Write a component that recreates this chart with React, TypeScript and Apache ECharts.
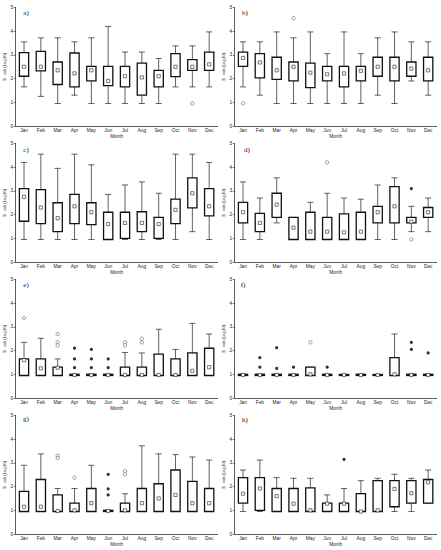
import React, { useEffect, useRef } from "react";
import * as echarts from "echarts";

const months = ["Jan", "Feb", "Mar", "Apr", "May", "Jun", "Jul", "Aug", "Sep", "Oct", "Nov", "Dec"];
const panelLabels = ["a)", "b)", "c)", "d)", "e)", "f)", "g)", "h)"];
const yAxisName = "E. coli (Log10)";
const xAxisName = "Month";

// each box: [whisker low, Q1, median, Q3, whisker high]
const boxA = [
  [1.65, 2.1, 2.5, 3.1, 3.55], [1.25, 2.33, 2.5, 3.15, 3.72], [0.95, 1.75, 2.35, 2.7, 3.72],
  [1.3, 1.65, 2.22, 3.08, 3.55], [0.95, 1.9, 2.35, 2.52, 3.72], [0.95, 1.7, 1.9, 2.52, 4.2],
  [0.95, 1.65, 2.1, 2.52, 3.12], [0.95, 1.3, 2.05, 2.65, 3.12], [0.95, 1.65, 2.1, 2.35, 2.85],
  [1.65, 2.08, 2.5, 3.05, 3.38], [1.65, 2.35, 2.5, 2.8, 3.38], [1.65, 2.35, 2.6, 3.12, 3.97],
];
const boxB = [
  [1.65, 2.52, 2.87, 3.12, 3.55], [1.3, 2.03, 2.68, 3.05, 3.55], [0.95, 1.97, 2.35, 2.9, 3.97],
  [0.95, 1.9, 2.5, 2.7, 3.72], [0.95, 1.62, 2.25, 2.65, 3.97], [0.95, 1.9, 2.18, 2.52, 3.05],
  [0.95, 1.65, 2.22, 2.52, 3.97], [0.95, 1.9, 2.33, 2.52, 3.05], [1.3, 2.1, 2.5, 2.9, 3.72],
  [0.95, 1.9, 2.5, 2.9, 3.97], [1.9, 2.1, 2.42, 2.7, 3.55], [1.3, 1.9, 2.35, 2.9, 3.55],
];
const boxC = [
  [0.95, 1.72, 2.75, 3.1, 4.2], [0.95, 1.62, 2.3, 3.05, 4.55], [0.95, 1.28, 1.85, 2.5, 3.95],
  [0.95, 1.62, 2.35, 2.85, 4.55], [0.95, 1.58, 2.1, 2.5, 4.1], [0.95, 0.95, 1.6, 2.1, 2.85],
  [0.95, 1.0, 1.65, 2.1, 3.25], [0.95, 1.28, 1.65, 2.12, 3.38], [0.95, 1.0, 1.6, 1.88, 2.9],
  [0.95, 1.62, 2.2, 2.65, 4.55], [1.28, 2.28, 2.9, 3.55, 4.55], [0.95, 1.95, 2.35, 3.1, 4.2],
];
const boxD = [
  [0.95, 1.65, 2.1, 2.52, 3.38], [0.95, 1.28, 1.65, 2.05, 2.7], [1.65, 1.88, 2.42, 2.9, 3.55],
  [0.95, 0.95, 1.45, 1.88, 1.88], [0.95, 0.95, 1.28, 2.1, 2.52], [0.95, 0.95, 1.28, 1.88, 2.9],
  [0.95, 0.95, 1.25, 2.03, 2.7], [0.95, 0.95, 1.28, 2.1, 2.65], [0.95, 1.65, 2.1, 2.35, 3.25],
  [0.95, 1.65, 2.35, 3.18, 3.55], [1.28, 1.65, 1.7, 1.88, 2.35], [1.28, 1.88, 2.1, 2.3, 2.7],
];
const boxE = [
  [0.95, 0.95, 1.6, 1.65, 2.35], [0.95, 0.95, 1.25, 1.65, 2.52], [0.95, 0.95, 1.28, 1.3, 1.65],
  [0.95, 0.95, 0.97, 1.0, 1.0], [0.95, 0.95, 0.97, 1.0, 1.0], [0.95, 0.95, 0.97, 1.0, 1.0],
  [0.95, 0.95, 0.97, 1.3, 1.92], [0.95, 0.95, 0.97, 1.3, 1.9], [0.95, 0.95, 0.97, 1.85, 2.9],
  [0.95, 0.95, 0.97, 1.65, 2.05], [0.95, 0.95, 1.15, 1.9, 3.15], [0.95, 0.95, 1.3, 2.1, 2.7],
];
const boxF = [
  [0.95, 0.95, 0.97, 1.0, 1.0], [0.95, 0.95, 0.97, 1.0, 1.0], [0.95, 0.95, 0.97, 1.0, 1.0],
  [0.95, 0.95, 0.97, 1.0, 1.0], [0.95, 0.95, 1.0, 1.3, 1.3], [0.95, 0.95, 0.97, 1.0, 1.0],
  [0.95, 0.95, 0.97, 0.98, 0.98], [0.95, 0.95, 0.97, 1.0, 1.0], [0.95, 0.95, 0.97, 0.98, 0.98],
  [0.95, 0.95, 1.0, 1.7, 2.7], [0.95, 0.95, 0.97, 1.0, 1.0], [0.95, 0.95, 0.97, 1.0, 1.0],
];
const boxG = [
  [0.95, 0.95, 1.15, 1.8, 2.9], [0.95, 0.95, 1.15, 2.3, 3.38], [0.95, 0.95, 0.97, 1.65, 1.92],
  [0.95, 0.95, 1.0, 1.3, 1.92], [0.95, 0.95, 1.3, 1.92, 2.9], [0.95, 0.95, 0.97, 1.0, 1.0],
  [0.95, 0.95, 1.0, 1.3, 1.7], [0.95, 0.95, 1.3, 1.92, 3.72], [0.95, 0.95, 1.5, 2.12, 3.38],
  [0.95, 0.95, 1.65, 2.7, 3.35], [0.95, 0.95, 1.3, 2.22, 3.25], [0.95, 0.95, 1.3, 1.92, 3.12],
];
const boxH = [
  [0.95, 1.3, 1.7, 2.38, 2.7], [0.95, 1.0, 1.92, 2.38, 3.12], [0.95, 0.95, 1.6, 1.92, 2.38],
  [0.95, 0.95, 1.28, 1.92, 2.35], [0.95, 0.95, 1.0, 1.95, 2.35], [0.95, 0.95, 1.28, 1.3, 1.65],
  [0.95, 0.95, 1.28, 1.3, 1.92], [0.95, 0.95, 0.95, 1.7, 2.25], [0.95, 0.95, 1.0, 2.25, 2.35],
  [0.95, 1.15, 1.9, 2.25, 2.52], [0.95, 1.3, 1.72, 2.25, 2.35], [1.3, 1.3, 2.18, 2.3, 2.7],
];

// outliers (open circles): [month index, value]
const outA = [[10, 0.95]];
const outB = [[0, 0.95], [3, 4.55]];
const outC: number[][] = [];
const outD = [[5, 4.2], [10, 0.95]];
const outE = [[0, 3.38], [2, 2.7], [2, 2.35], [2, 2.22], [6, 2.35], [6, 2.22], [7, 2.5], [7, 2.35]];
const outF = [[4, 2.35]];
const outG = [[2, 3.3], [2, 3.2], [3, 2.38], [6, 2.65], [6, 2.52]];
const outH: number[][] = [];

// extremes (filled dots): [month index, value]
const extA: number[][] = [];
const extB: number[][] = [];
const extC: number[][] = [];
const extD = [[10, 3.1]];
const extE = [[3, 2.1], [3, 1.65], [3, 1.28], [4, 2.05], [4, 1.65], [4, 1.28], [5, 1.65], [5, 1.28]];
const extF = [[1, 1.7], [1, 1.3], [2, 2.12], [2, 1.25], [3, 1.3], [5, 1.3], [10, 2.35], [10, 2.05], [11, 1.9]];
const extG = [[5, 2.52], [5, 1.9], [5, 1.65]];
const extH = [[6, 3.15]];

const boxes = [boxA, boxB, boxC, boxD, boxE, boxF, boxG, boxH];
const outliers = [outA, outB, outC, outD, outE, outF, outG, outH];
const extremes = [extA, extB, extC, extD, extE, extF, extG, extH];

const FONT = "Liberation Sans";

export default function App() {
  const ref = useRef<HTMLDivElement>(null);
  useEffect(() => {
    if (!ref.current) return;
    const chart = echarts.init(ref.current, null, { renderer: "svg" });
    const grids: any[] = [];
    const xAxes: any[] = [];
    const yAxes: any[] = [];
    const series: any[] = [];
    const graphics: any[] = [];
    const lefts = [15.6, 234.6];
    const labelPos = [
      [26, 13], [245, 13], [26, 150], [247, 150], [26, 285], [243, 285], [26, 419], [245, 420],
    ];
    for (let p = 0; p < 8; p++) {
      const col = p % 2;
      const row = Math.floor(p / 2);
      grids.push({ left: lefts[col], top: 7.5 + 136 * row, width: 202, height: 118.5 });
      xAxes.push({
        type: "category",
        gridIndex: p,
        data: months,
        name: xAxisName,
        nameLocation: "middle",
        nameGap: 7,
        nameTextStyle: { fontSize: 4.6, fontFamily: FONT, color: "#222" },
        axisLine: { lineStyle: { color: "#333", width: 0.8 } },
        axisTick: { alignWithLabel: true, length: 1.8, lineStyle: { color: "#333", width: 0.7 } },
        axisLabel: { fontSize: 4.8, fontFamily: FONT, color: "#222", margin: 2.3, interval: 0 },
        splitLine: { show: false },
      });
      yAxes.push({
        type: "value",
        gridIndex: p,
        min: 0,
        max: 5,
        interval: 1,
        name: yAxisName,
        nameLocation: "middle",
        nameGap: 5.5,
        nameTextStyle: { fontSize: 4.3, fontFamily: FONT, color: "#222" },
        axisLine: { show: true, lineStyle: { color: "#333", width: 0.8 } },
        axisTick: { show: true, length: 1.8, lineStyle: { color: "#333", width: 0.7 } },
        axisLabel: { fontSize: 4.8, fontFamily: FONT, color: "#222", margin: 2.5 },
        splitLine: { show: false },
      });
      series.push({
        type: "custom",
        xAxisIndex: p,
        yAxisIndex: p,
        encode: { x: 0, y: [1, 2, 3, 4, 5] },
        data: boxes[p].map((b, i) => [i, ...b]),
        renderItem: (params: any, api: any) => {
          const i = api.value(0);
          const lo = api.coord([i, api.value(1)]);
          const q1 = api.coord([i, api.value(2)]);
          const md = api.coord([i, api.value(3)]);
          const q3 = api.coord([i, api.value(4)]);
          const hi = api.coord([i, api.value(5)]);
          const cw = api.size([1, 0])[0];
          const bw = cw * 0.55;
          const capW = cw * 0.36;
          const cx = lo[0];
          const wStyle = { stroke: "#3a3a3a", lineWidth: 0.8 };
          const boxH = Math.max(q1[1] - q3[1], 1);
          return {
            type: "group",
            children: [
              { type: "line", shape: { x1: cx, y1: hi[1], x2: cx, y2: q3[1] }, style: wStyle },
              { type: "line", shape: { x1: cx - capW / 2, y1: hi[1], x2: cx + capW / 2, y2: hi[1] }, style: wStyle },
              { type: "line", shape: { x1: cx, y1: lo[1], x2: cx, y2: q1[1] }, style: wStyle },
              { type: "line", shape: { x1: cx - capW / 2, y1: lo[1], x2: cx + capW / 2, y2: lo[1] }, style: wStyle },
              {
                type: "rect",
                shape: { x: cx - bw / 2, y: q1[1] - boxH, width: bw, height: boxH },
                style: { fill: "#fff", stroke: "#111", lineWidth: 1.3 },
              },
              {
                type: "rect",
                shape: { x: cx - 1.6, y: md[1] - 1.6, width: 3.2, height: 3.2 },
                style: { fill: "#fff", stroke: "#222", lineWidth: 0.6 },
              },
            ],
          };
        },
      });
      series.push({
        type: "scatter",
        xAxisIndex: p,
        yAxisIndex: p,
        data: outliers[p],
        symbol: "circle",
        symbolSize: 3.4,
        itemStyle: { color: "#fff", borderColor: "#333", borderWidth: 0.6 },
      });
      series.push({
        type: "scatter",
        xAxisIndex: p,
        yAxisIndex: p,
        data: extremes[p],
        symbol: "circle",
        symbolSize: 3.2,
        itemStyle: { color: "#000" },
      });
      graphics.push({
        type: "text",
        x: labelPos[p][0],
        y: labelPos[p][1],
        style: {
          text: panelLabels[p],
          font: "7px 'Liberation Serif'",
          fill: "#111",
          textAlign: "center",
          textVerticalAlign: "middle",
        },
      });
    }
    chart.setOption({
      animation: false,
      backgroundColor: "#fff",
      grid: grids,
      xAxis: xAxes,
      yAxis: yAxes,
      series,
      graphic: graphics,
    });
    return () => chart.dispose();
  }, []);
  return (
    <div
      ref={ref}
      style={{ position: "fixed", left: 0, top: 0, width: 441, height: 550, background: "#fff" }}
    />
  );
}
